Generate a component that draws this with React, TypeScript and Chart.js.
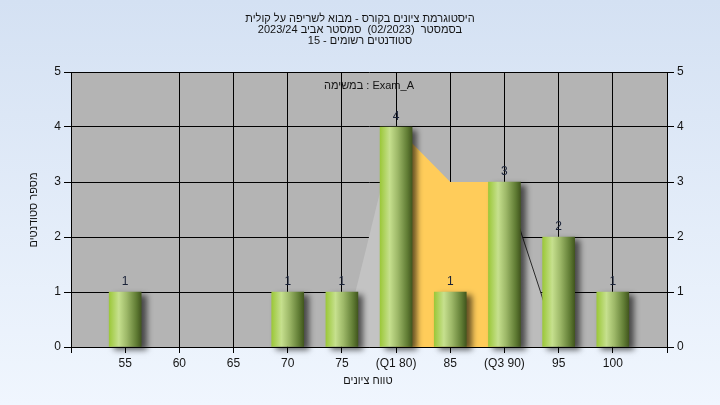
import { useEffect, useRef } from 'react';
import { Chart, registerables } from 'chart.js';

Chart.register(...registerables);

// ---- data ----
const scoreBins = [55, 60, 65, 70, 75, 80, 85, 90, 95, 100];
const studentCounts = [1, 0, 0, 1, 1, 4, 1, 3, 2, 1];
const xTickLabels = ['55', '60', '65', '70', '75', '(Q1 80)', '85', '(Q3 90)', '95', '100'];
const yTickLabels = ['0', '1', '2', '3', '4', '5'];

const lowerWhiskerX = [75, 80];
const lowerWhiskerY = [0, 4];
const boxX = [80, 85, 90];
const boxY = [4, 3, 3];
const upperWhiskerX = [90, 95];
const upperWhiskerY = [3, 0];

const titleLines = [
  'היסטוגרמת ציונים בקורס - מבוא לשריפה על קולית',
  'בסמסטר  (02/2023)  סמסטר אביב 2023/24',
  'סטודנטים רשומים - 15',
];
const examLabel = 'במשימה : Exam_A';
const xAxisTitle = 'טווח ציונים';
const yAxisTitle = 'מספר סטודנטים';

const FONT = '"Liberation Sans", Arial, sans-serif';
const TEXT = '#141414';

const barGradient = (ctx: any) => {
  const chart = ctx.chart;
  const xs = chart.scales && chart.scales.x;
  if (!chart.chartArea || !xs || !ctx.raw) return '#9cc63c';
  const cx = xs.getPixelForValue(ctx.raw.x);
  const g = chart.ctx.createLinearGradient(cx - 16, 0, cx + 16, 0);
  g.addColorStop(0, '#9cc83a');
  g.addColorStop(0.3, '#c6e08e');
  g.addColorStop(0.55, '#9db868');
  g.addColorStop(0.85, '#607c34');
  g.addColorStop(1, '#42571e');
  return g;
};

const plotBgPlugin = {
  id: 'plotBg',
  beforeDraw(chart: any) {
    const { ctx, chartArea } = chart;
    if (!chartArea) return;
    ctx.save();
    ctx.fillStyle = '#b4b4b4';
    ctx.fillRect(chartArea.left, chartArea.top, chartArea.right - chartArea.left, chartArea.bottom - chartArea.top);
    ctx.restore();
  },
};

const shadowPlugin = {
  id: 'barShadow',
  beforeDatasetDraw(chart: any, args: any) {
    if (args.index !== 0) return;
    const c = chart.ctx;
    c.save();
    c.shadowColor = 'rgba(0,0,0,0.6)';
    c.shadowBlur = 6;
    c.shadowOffsetX = 5;
    c.shadowOffsetY = 3;
  },
  afterDatasetDraw(chart: any, args: any) {
    if (args.index !== 0) return;
    chart.ctx.restore();
  },
};

const textPlugin = {
  id: 'texts',
  afterDraw(chart: any) {
    const { ctx } = chart;
    ctx.save();
    ctx.fillStyle = TEXT;
    ctx.font = `11px ${FONT}`;
    ctx.textAlign = 'center';
    ctx.textBaseline = 'middle';
    titleLines.forEach((line, i) => {
      ctx.fillText(line, 360, 18.5 + i * 11);
    });
    ctx.fillText(examLabel, 369, 86);
    ctx.fillText(xAxisTitle, 368, 381);
    ctx.save();
    ctx.translate(34, 210);
    ctx.rotate(-Math.PI / 2);
    ctx.fillText(yAxisTitle, 0, 0);
    ctx.restore();

    // value labels above bars
    const meta = chart.getDatasetMeta(0);
    ctx.font = `12px ${FONT}`;
    ctx.textBaseline = 'alphabetic';
    ctx.fillStyle = '#1a2238';
    meta.data.forEach((el: any, i: number) => {
      const v = studentCounts[i];
      if (!v) return;
      ctx.fillText(String(v), el.x, el.y - 7);
    });
    ctx.restore();
  },
};

const tickFont = { family: FONT, size: 12 };

export default function App() {
  const ref = useRef<HTMLCanvasElement>(null);
  useEffect(() => {
    if (!ref.current) return;
    const chart = new Chart(ref.current, {
      type: 'bar',
      data: {
        datasets: [
          {
            type: 'bar',
            data: scoreBins.map((x, i) => ({ x, y: studentCounts[i] > 0 ? studentCounts[i] : null })),
            barThickness: 32,
            backgroundColor: barGradient,
            borderWidth: 0,
            order: 0,
            clip: false,
          } as any,
          {
            type: 'line',
            data: lowerWhiskerX.map((x, i) => ({ x, y: lowerWhiskerY[i] })),
            fill: 'origin',
            backgroundColor: '#c3c3c3',
            borderWidth: 0,
            pointRadius: 0,
            tension: 0,
            order: 1,
          } as any,
          {
            type: 'line',
            data: boxX.map((x, i) => ({ x, y: boxY[i] })),
            fill: 'origin',
            backgroundColor: '#ffcc5a',
            borderWidth: 0,
            pointRadius: 0,
            tension: 0,
            order: 1,
          } as any,
          {
            type: 'line',
            data: upperWhiskerX.map((x, i) => ({ x, y: upperWhiskerY[i] })),
            fill: 'origin',
            backgroundColor: '#bcbcbc',
            borderColor: '#2a2a2a',
            borderWidth: 1,
            pointRadius: 0,
            tension: 0,
            order: 1,
          } as any,
        ],
      },
      options: {
        animation: false,
        responsive: false,
        maintainAspectRatio: false,
        events: [],
        layout: { padding: { top: 72, left: 0, right: 0, bottom: 0 } },
        plugins: {
          legend: { display: false },
          tooltip: { enabled: false },
          title: { display: false },
        },
        scales: {
          x: {
            type: 'linear',
            min: 50,
            max: 105,
            offset: false,
            ticks: {
              stepSize: 5,
              autoSkip: false,
              maxRotation: 0,
              padding: 3,
              color: TEXT,
              font: tickFont,
              callback: (v: any) => {
                const idx = scoreBins.indexOf(Number(v));
                return idx >= 0 ? xTickLabels[idx] : '';
              },
            },
            grid: {
              color: (c: any) => (c.tick && c.tick.value === scoreBins[0] ? 'rgba(0,0,0,0)' : '#000'),
              lineWidth: 1,
              offset: false,
              tickLength: 6,
              tickColor: '#000',
            },
            border: { color: '#000', width: 1 },
            afterFit: (s: any) => {
              s.height = 58;
            },
          },
          y: {
            position: 'left',
            min: 0,
            max: 5,
            ticks: {
              stepSize: 1,
              padding: 3,
              color: TEXT,
              font: tickFont,
              callback: (v: any) => yTickLabels[Number(v)] ?? '',
            },
            grid: { color: '#000', lineWidth: 1, tickLength: 7, tickColor: '#000' },
            border: { color: '#000', width: 1 },
            afterFit: (s: any) => {
              s.width = 71;
            },
          },
          y2: {
            position: 'right',
            min: 0,
            max: 5,
            ticks: {
              stepSize: 1,
              padding: 3,
              color: TEXT,
              font: tickFont,
              callback: (v: any) => yTickLabels[Number(v)] ?? '',
            },
            grid: { drawOnChartArea: false, tickLength: 7, tickColor: '#000' },
            border: { color: '#000', width: 1 },
            afterFit: (s: any) => {
              s.width = 53;
            },
          },
        },
      } as any,
      plugins: [plotBgPlugin, shadowPlugin, textPlugin],
    });
    return () => chart.destroy();
  }, []);

  return (
    <div
      style={{
        position: 'fixed',
        left: 0,
        top: 0,
        width: 720,
        height: 405,
        background: 'linear-gradient(to bottom, #d4e1f3 0%, #f0f6fe 100%)',
      }}
    >
      <canvas ref={ref} width={720} height={405} style={{ display: 'block', width: 720, height: 405 }} />
    </div>
  );
}
